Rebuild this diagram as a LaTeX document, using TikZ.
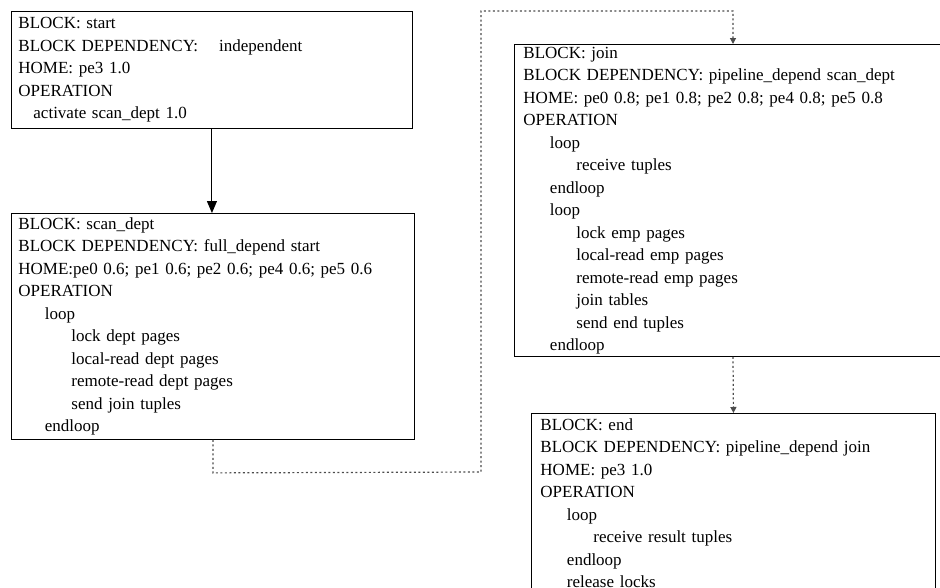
\documentclass[tikz,border=0pt]{standalone}
\usepackage{fontspec}
\setmainfont{Liberation Serif}
\usetikzlibrary{arrows.meta,calc}
\newcommand\indA{\hspace*{26.5pt}}
\newcommand\indB{\hspace*{53pt}}
\begin{document}
\begin{tikzpicture}[x=1pt,y=1pt,
  blockbox/.style={draw, line width=0.9pt, anchor=north west, align=left,
    font=\fontsize{17}{22.5}\selectfont, inner ysep=2pt},
  solidarrow/.style={line width=1pt, -{Triangle[width=10pt,length=12pt]}},
  dotline/.style={line width=1.2pt, dash pattern=on 2pt off 2.5pt, black!70},
  dotarrow/.style={dotline, -{Triangle[width=6pt,length=6pt]}}]
\path[use as bounding box] (0,0) rectangle (940,-587);
\clip (0,0) rectangle (940,-587);

\node[blockbox, inner xsep=7pt, text width=387pt, minimum height=117pt] (start) at (11,-11)
  {BLOCK: start\\
   BLOCK DEPENDENCY:\hspace{21pt}independent\\
   HOME: pe3 1.0\\
   OPERATION\\
   \hspace*{15pt}activate scan\_dept 1.0};

\node[blockbox, inner xsep=7pt, text width=389pt, minimum height=226pt] (scan) at (11,-213)
  {BLOCK: scan\_dept\\
   BLOCK DEPENDENCY: full\_depend start\\
   HOME:pe0 0.6; pe1 0.6; pe2 0.6; pe4 0.6; pe5 0.6\\
   OPERATION\\
   \indA loop\\
   \indB lock dept pages\\
   \indB local-read dept pages\\
   \indB remote-read dept pages\\
   \indB send join tuples\\
   \indA endloop};

\node[blockbox, inner xsep=9pt, text width=442pt, minimum height=312pt] (join) at (514,-44)
  {BLOCK: join\\
   BLOCK DEPENDENCY: pipeline\_depend scan\_dept\\
   HOME: pe0 0.8; pe1 0.8; pe2 0.8; pe4 0.8; pe5 0.8\\
   OPERATION\\
   \indA loop\\
   \indB receive tuples\\
   \indA endloop\\
   \indA loop\\
   \indB lock emp pages\\
   \indB local-read emp pages\\
   \indB remote-read emp pages\\
   \indB join tables\\
   \indB send end tuples\\
   \indA endloop};

\node[blockbox, inner xsep=9pt, inner ysep=5pt, text width=386pt] (end) at (531,-413)
  {BLOCK: end\\
   BLOCK DEPENDENCY: pipeline\_depend join\\
   HOME: pe3 1.0\\
   OPERATION\\
   \indA loop\\
   \indB receive result tuples\\
   \indA endloop\\
   \indA release locks};

\draw[solidarrow] (start.south) -- (start.south |- scan.north);

\coordinate (c1) at ($(scan.south)+(0,-33)$);
\coordinate (c2) at (481,-472);
\coordinate (c3) at (481,-11);
\coordinate (c4) at (733,-11);
\coordinate (jin) at ($(join.north west)+(219,0)$);
\draw[dotarrow] (scan.south) -- (c1) -- (c2) -- (c3) -- (c4) -- (jin);

\coordinate (jout) at ($(join.south west)+(219,0)$);
\draw[dotarrow] (jout) -- (end.north);
\end{tikzpicture}
\end{document}
